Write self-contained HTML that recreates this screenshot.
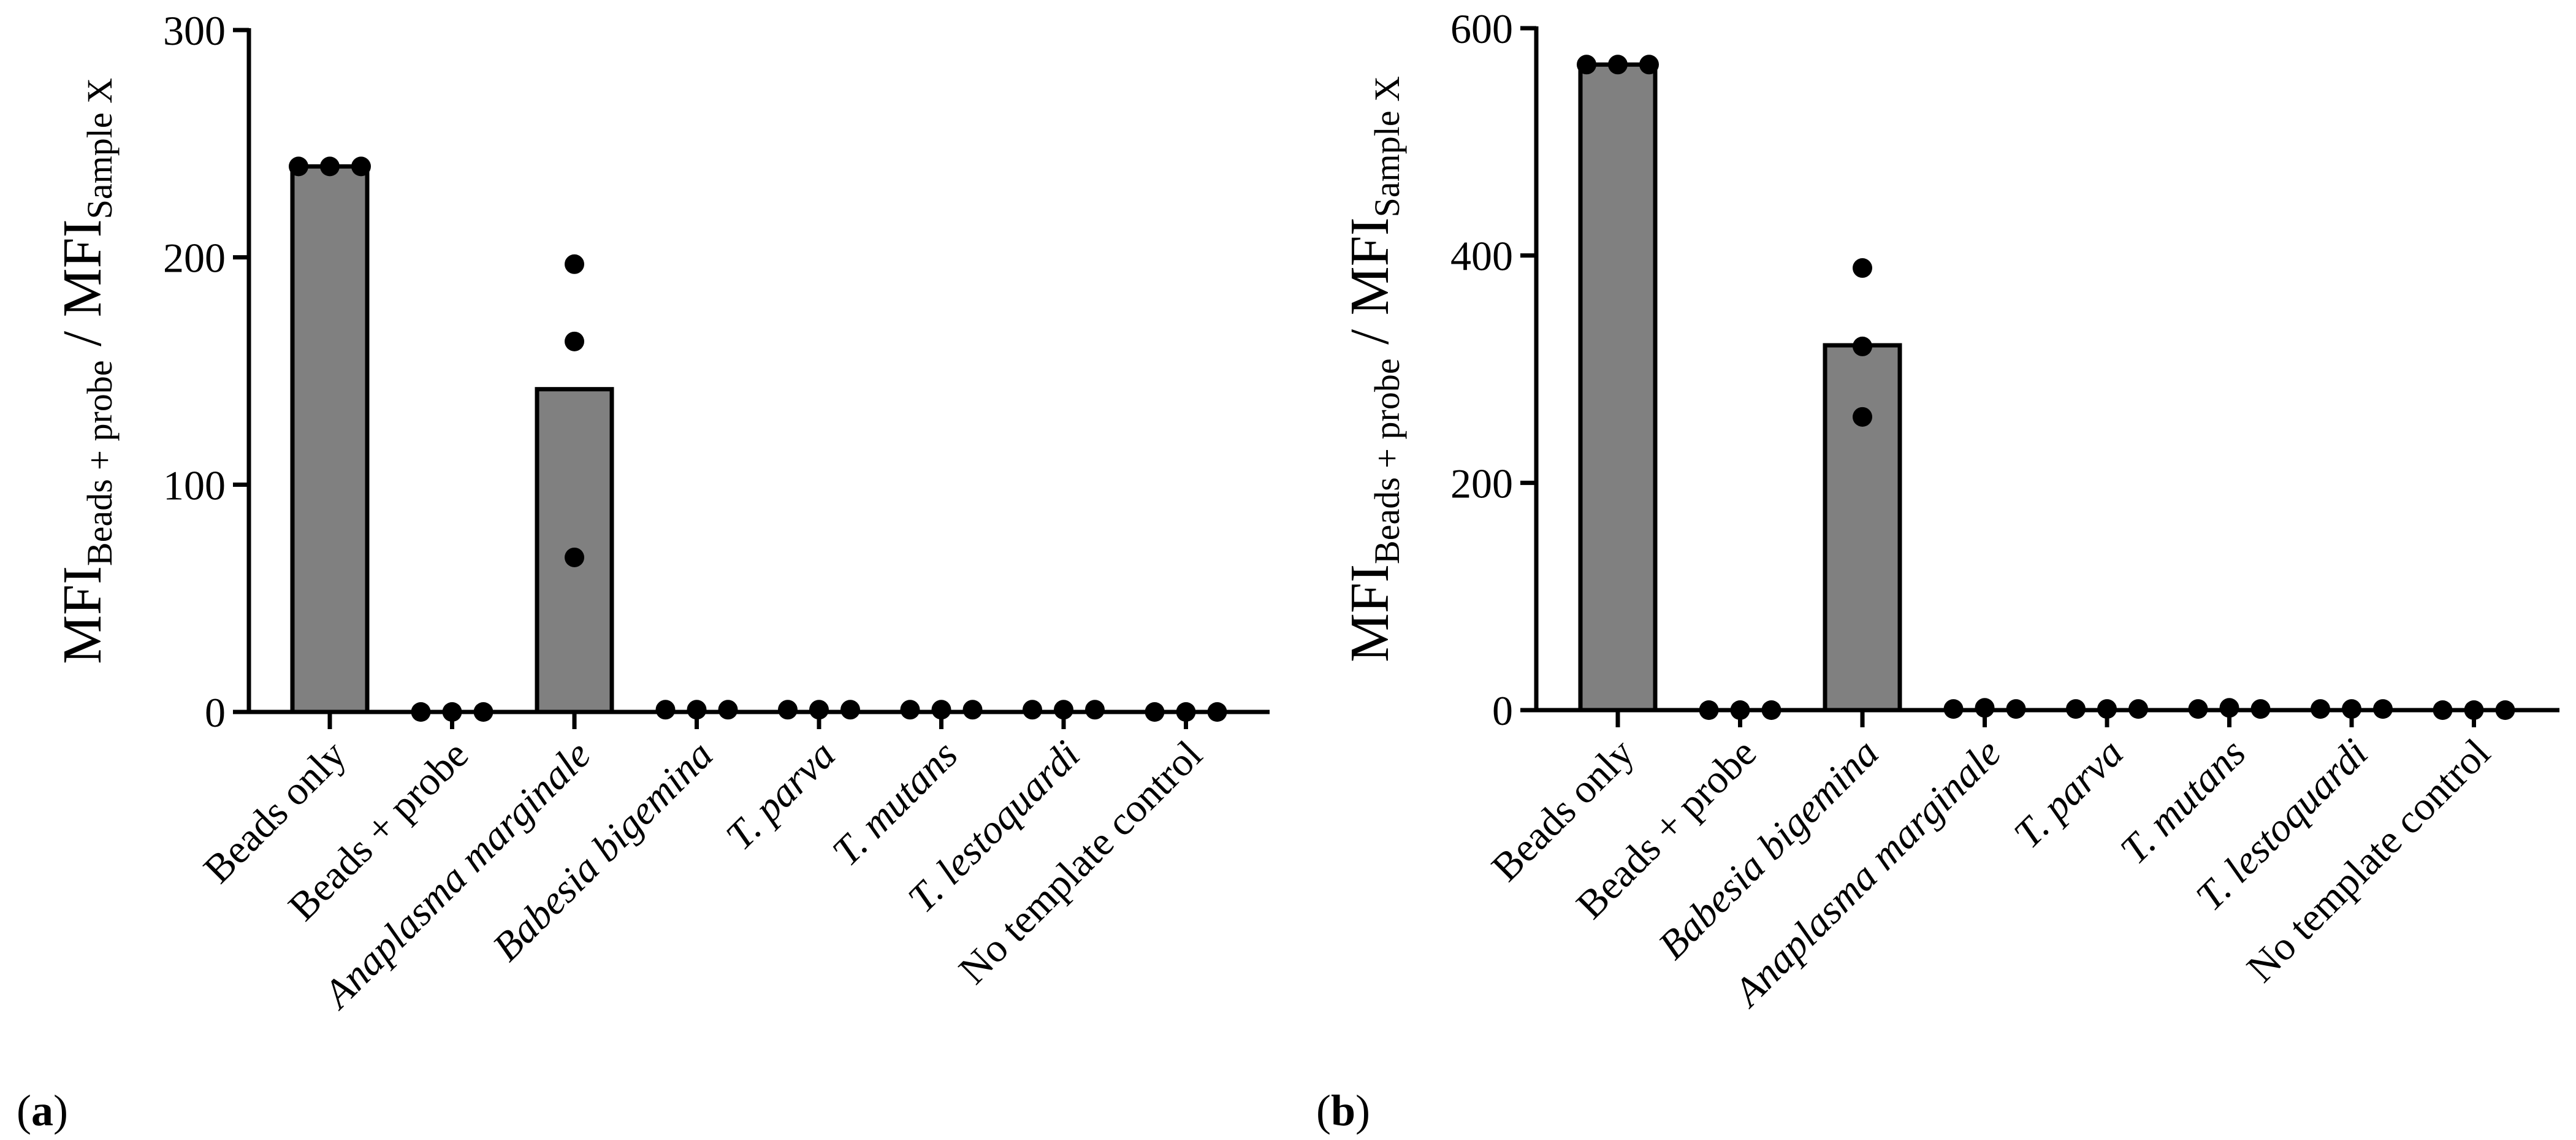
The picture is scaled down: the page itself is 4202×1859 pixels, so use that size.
<!DOCTYPE html>
<html><head><meta charset="utf-8"><style>
html,body{margin:0;padding:0;background:#fff;}
svg{display:block;font-family:"Liberation Serif",serif;}
</style></head><body>
<svg id="chart" width="4202" height="1859" viewBox="0 0 4202 1859" xmlns="http://www.w3.org/2000/svg">
<text x="27" y="1835" font-size="72">(<tspan font-weight="bold">a</tspan>)</text>
<text x="2147" y="1835" font-size="72">(<tspan font-weight="bold">b</tspan>)</text>
</svg>
<script>
const catsA = ["Beads only","Beads + probe","Anaplasma marginale","Babesia bigemina","T. parva","T. mutans","T. lestoquardi","No template control"];
const italicA = [false,false,true,true,true,true,true,false];
const barsA = [240,0,142,0.5,0.5,0.5,0.5,0];
const pointsA = [[240,240,240],[0,0,0],[68,163,197],[1,1,1],[1,1,1],[1,1,1],[1,1,1],[0,0,0]];
const ticksA = [0,100,200,300];

const catsB = ["Beads only","Beads + probe","Babesia bigemina","Anaplasma marginale","T. parva","T. mutans","T. lestoquardi","No template control"];
const italicB = [false,false,true,true,true,true,true,false];
const barsB = [568,0,321,1,1,1,1,0];
const pointsB = [[568,568,568],[0,0,0],[258,320,389],[1,2,1],[1,1,1],[1,2,1],[1,1,1],[0,0,0]];
const ticksB = [0,200,400,600];

const NS="http://www.w3.org/2000/svg";
const svg=document.getElementById('chart');
function mk(tag,attrs,parent){const e=document.createElementNS(NS,tag);for(const k in attrs)e.setAttribute(k,attrs[k]);(parent||svg).appendChild(e);return e;}

function panel(p){
  const g=mk('g',{});
  
  
  const ymax=p.ticks[p.ticks.length-1];
  const y=v=>p.y0-(v/ymax)*(p.y0-p.yTop);
  const x=i=>p.x0+i*p.step;
  p.bars.forEach((v,i)=>{
    if(v<5) return;
    const r=mk('rect',{x:x(i)-61,y:y(v),width:122,height:p.y0-y(v),fill:'#808080',stroke:'#000','stroke-width':7},g);
    
    
  });
  const ya=mk('line',{x1:p.ax,y1:p.yTop-3,x2:p.ax,y2:p.y0,stroke:'#000','stroke-width':7},g);
  
  
  const xa=mk('line',{x1:p.ax-25,y1:p.y0,x2:p.xEnd,y2:p.y0,stroke:'#000','stroke-width':7},g);
  
  
  p.ticks.forEach(t=>{
    mk('line',{x1:p.ax-26,y1:y(t),x2:p.ax,y2:y(t),stroke:'#000','stroke-width':7},g);
    const tx=mk('text',{x:p.ax-38,y:y(t)+24,'font-size':68,'text-anchor':'end'},g);
    tx.textContent=t;
    
    
  });
  p.cats.forEach((c,i)=>{
    mk('line',{x1:x(i),y1:p.y0,x2:x(i),y2:p.y0+28,stroke:'#000','stroke-width':7},g);
    const tx=mk('text',{x:0,y:0,'font-size':66,'text-anchor':'end',transform:`translate(${x(i)+30},${p.y0+74}) rotate(-45)`},g);
    if(p.ital[i]) tx.setAttribute('font-style','italic');
    tx.textContent=c;
    
    
  });
  p.pts.forEach((arr,i)=>{
    const range=Math.max(...arr)-Math.min(...arr);
    const spread=(y(0)-y(range))<40;
    arr.forEach((v,j)=>{
      const c=mk('circle',{cx:x(i)+(spread?(j-1)*51:0),cy:y(v),r:16,fill:'#000'},g);
      
      
    });
  });
  const t=mk('text',{x:0,y:0,'font-size':90,'text-anchor':'middle',transform:`translate(${p.ax-242},${(p.yTop+p.y0)/2}) rotate(-90)`},g);
  t.innerHTML='MFI<tspan font-size="58" dy="18">Beads + probe</tspan><tspan dy="-18"> / MFI</tspan><tspan font-size="58" dy="18">Sample X</tspan>';
  
  
}
panel({name:'panel-a',cats:catsA,ital:italicA,bars:barsA,pts:pointsA,ticks:ticksA,ax:406,x0:538,step:199.5,y0:1161,yTop:49,xEnd:2071});
panel({name:'panel-b',cats:catsB,ital:italicB,bars:barsB,pts:pointsB,ticks:ticksB,ax:2506,x0:2639,step:199.5,y0:1158,yTop:46,xEnd:4175});
</script>
</body></html>
